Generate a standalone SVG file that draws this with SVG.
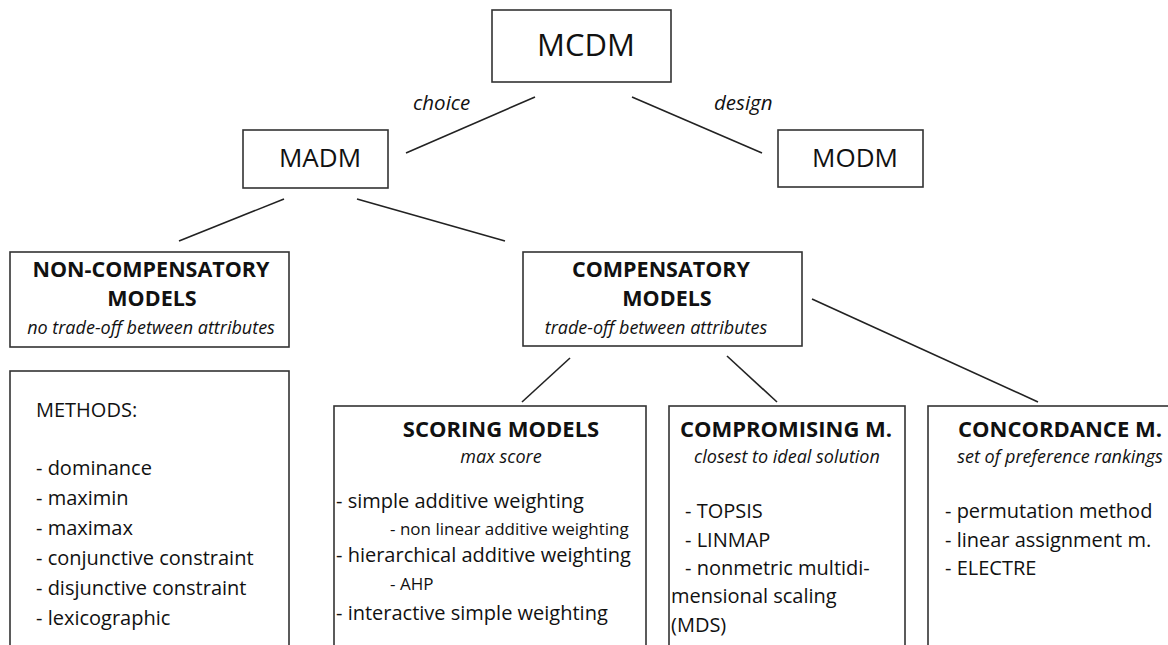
<svg xmlns="http://www.w3.org/2000/svg" width="1168" height="645" viewBox="0 0 1168 645">
  <style>
    .box { fill: #ffffff; stroke: #333333; stroke-width: 1.6; }
    .link { stroke: #222222; stroke-width: 1.6; fill: none; }
    text { font-family: "Open Sans", "Noto Sans", sans-serif; fill: #111111; }
    .big { font-size: 31px; }
    .mid { font-size: 26px; }
    .title { font-size: 22px; font-weight: bold; text-anchor: middle; }
    .title2 { font-size: 21.5px; font-weight: bold; text-anchor: middle; }
    .sub { font-size: 18px; font-style: italic; text-anchor: middle; }
    .edge { font-size: 20.5px; font-style: italic; }
    .item { font-size: 20px; }
    .small { font-size: 17px; }
  </style>
  <rect width="1168" height="645" fill="#ffffff"/>

  <!-- connectors -->
  <g id="connectors">
    <line class="link" x1="535" y1="97" x2="406" y2="153"/>
    <line class="link" x1="632" y1="97" x2="762" y2="153"/>
    <line class="link" x1="284" y1="199" x2="179" y2="241"/>
    <line class="link" x1="357" y1="199" x2="505" y2="241"/>
    <line class="link" x1="570" y1="358" x2="522" y2="402"/>
    <line class="link" x1="727" y1="356" x2="777" y2="402"/>
    <line class="link" x1="812" y1="299" x2="1038" y2="402"/>
    <text class="edge" x="413" y="110">choice</text>
    <text class="edge" x="714" y="110">design</text>
  </g>

  <g id="mcdm">
    <rect class="box" x="492" y="10" width="179" height="72"/>
    <text class="big" x="586" y="56" text-anchor="middle">MCDM</text>
  </g>

  <g id="madm">
    <rect class="box" x="243" y="130" width="145" height="58"/>
    <text class="mid" x="320" y="167" text-anchor="middle">MADM</text>
  </g>

  <g id="modm">
    <rect class="box" x="778" y="130" width="145" height="57"/>
    <text class="mid" x="855" y="167" text-anchor="middle">MODM</text>
  </g>

  <!-- two-line bold headings -->
  <g id="non-compensatory">
    <rect class="box" x="10" y="252" width="279" height="95"/>
    <text class="title2" x="151" y="277">NON-COMPENSATORY</text>
    <text class="title2" x="152" y="306">MODELS</text>
    <text class="sub" x="151" y="334">no trade-off between attributes</text>
  </g>

  <g id="compensatory">
    <rect class="box" x="523" y="252" width="279" height="94"/>
    <text class="title2" x="661" y="277">COMPENSATORY</text>
    <text class="title2" x="667" y="306">MODELS</text>
    <text class="sub" x="656" y="334">trade-off between attributes</text>
  </g>

  <g id="methods">
    <rect class="box" x="10" y="371" width="279" height="290"/>
    <text class="item" x="36" y="417">METHODS:</text>
    <text class="item" x="36" y="475">- dominance</text>
    <text class="item" x="36" y="505">- maximin</text>
    <text class="item" x="36" y="535">- maximax</text>
    <text class="item" x="36" y="565">- conjunctive constraint</text>
    <text class="item" x="36" y="595">- disjunctive constraint</text>
    <text class="item" x="36" y="625">- lexicographic</text>
  </g>

  <g id="scoring">
    <rect class="box" x="334" y="406" width="312" height="255"/>
    <text class="title" x="501" y="437">SCORING MODELS</text>
    <text class="sub" x="501" y="463">max score</text>
    <text class="item" x="336" y="508">- simple additive weighting</text>
    <text class="small" x="390" y="535">- non linear additive weighting</text>
    <text class="item" x="336" y="562">- hierarchical additive weighting</text>
    <text class="small" x="390" y="590">- AHP</text>
    <text class="item" x="336" y="620">- interactive simple weighting</text>
  </g>

  <g id="compromising">
    <rect class="box" x="669" y="406" width="236" height="255"/>
    <text class="title" x="786" y="437">COMPROMISING M.</text>
    <text class="sub" x="787" y="463">closest to ideal solution</text>
    <text class="item" x="685" y="518">- TOPSIS</text>
    <text class="item" x="685" y="547">- LINMAP</text>
    <text class="item" x="685" y="575">- nonmetric multidi-</text>
    <text class="item" x="671" y="603">mensional scaling</text>
    <text class="item" x="671" y="632">(MDS)</text>
  </g>

  <g id="concordance">
    <rect class="box" x="928" y="406" width="260" height="255"/>
    <text class="title" x="1060" y="437">CONCORDANCE M.</text>
    <text class="sub" x="1060" y="463">set of preference rankings</text>
    <text class="item" x="945" y="518">- permutation method</text>
    <text class="item" x="945" y="547">- linear assignment m.</text>
    <text class="item" x="945" y="575">- ELECTRE</text>
  </g>
</svg>
